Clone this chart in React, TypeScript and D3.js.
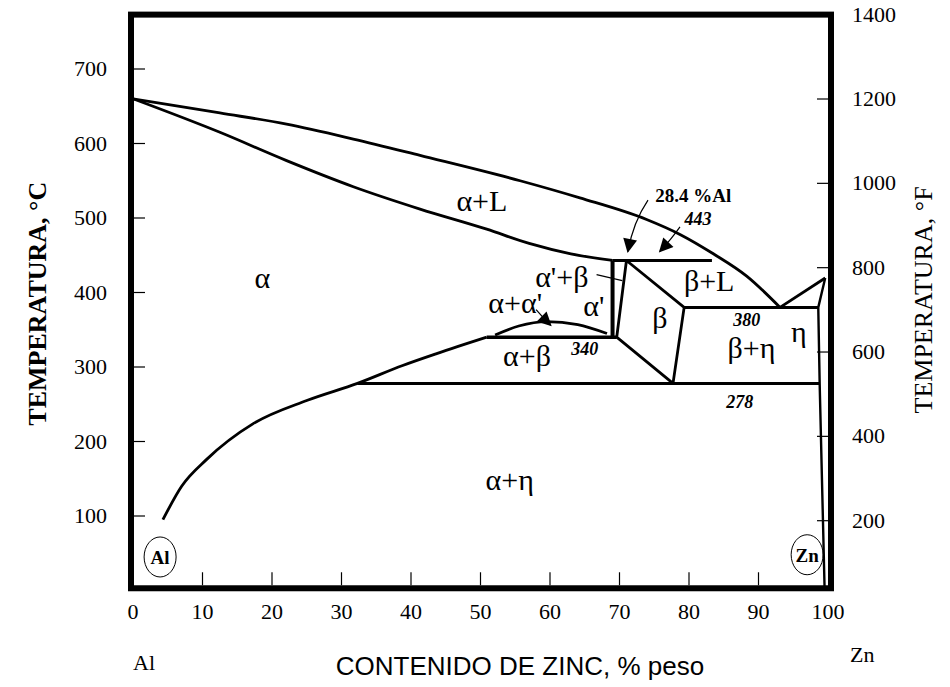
import * as d3 from "d3";

// ejes
const xTicks = [0, 10, 20, 30, 40, 50, 60, 70, 80, 90, 100];
const cTicks = [100, 200, 300, 400, 500, 600, 700];
const fTicks = [200, 400, 600, 800, 1000, 1200, 1400];

// lineas del diagrama: [% Zn, °C]
const liquidus: [number, number][] = [
  [0, 660], [12.5, 641], [22.1, 626], [31.7, 606], [41.3, 584], [55.7, 550],
  [64.3, 527], [73.9, 498], [78.7, 478], [83.5, 452], [88.3, 422], [93.1, 380],
];
const solidus: [number, number][] = [
  [0, 660], [12.5, 615], [22.1, 577], [31.7, 542], [41.3, 512], [50.9, 485],
  [57, 466], [63, 452], [69, 443],
];
const solvus: [number, number][] = [
  [4.3, 95], [7, 140], [10.6, 176], [17.3, 224], [25, 255], [32.3, 278],
  [38.8, 302], [43.7, 318], [50.9, 340],
];
const dome: [number, number][] = [
  [52.1, 343], [55.5, 355], [59.5, 361], [64, 357], [68.2, 345],
];
const etaLiquidus: [number, number][] = [[93.1, 380], [99.6, 419.5]];
const etaSolvus: [number, number][] = [[99.6, 419.5], [98.6, 380], [98.8, 278], [99.5, 6]];
const alphaPrime: [number, number][] = [[69, 443], [69, 340]];
const beta: [number, number][] = [[71, 443], [79.3, 380], [77.7, 278], [69.6, 340], [71, 443]];

// isotermas
const isotherms = [
  { t: 443, from: 69, to: 83.3, w: 3 },
  { t: 380, from: 79.3, to: 98.6, w: 3 },
  { t: 340, from: 50.9, to: 69.6, w: 3.5 },
  { t: 278, from: 32.3, to: 98.8, w: 3 },
];

// rotulos de fases
const phaseLabels = [
  { text: "α+L", p: 50.2, t: 510 },
  { text: "α", p: 18.6, t: 406 },
  { text: "α+α'", p: 55, t: 373 },
  { text: "α'+β", p: 61.7, t: 408 },
  { text: "α'", p: 66.3, t: 369 },
  { text: "β", p: 75.8, t: 353 },
  { text: "α+β", p: 56.7, t: 301 },
  { text: "β+L", p: 82.9, t: 402 },
  { text: "β+η", p: 89, t: 312.5 },
  { text: "η", p: 95.8, t: 333 },
  { text: "α+η", p: 54.2, t: 135 },
];
const tempLabels = [
  { text: "340", p: 65, t: 316.5 },
  { text: "380", p: 88.3, t: 354.5 },
  { text: "278", p: 87.3, t: 245 },
  { text: "443", p: 81.3, t: 491 },
];

// flechas: inicio, control, punta
const arrows: [number, number][][] = [
  [[74.1, 524], [72, 495], [71.2, 455]],
  [[78.7, 488], [77.5, 472], [75.8, 455]],
  [[58, 377], [59, 366], [60.1, 356]],
];

const serif = '"Liberation Serif", "Times New Roman", Times, "DejaVu Serif", serif';
const sans = '"Liberation Sans", Arial, Helvetica, sans-serif';

export default function App() {
  const W = 950;
  const H = 687;
  const x = d3.scaleLinear().domain([0, 100]).range([133, 828]);
  const yC = d3.scaleLinear().domain([100, 700]).range([516, 69]);
  const yF = d3.scaleLinear().domain([200, 1200]).range([520.7, 99]);

  const straight = d3.line<[number, number]>().x(d => x(d[0])).y(d => yC(d[1]));
  const smooth = d3.line<[number, number]>().x(d => x(d[0])).y(d => yC(d[1])).curve(d3.curveMonotoneX);

  const left = 131, right = 831;
  const top = yC(773), bottom = yC(3);

  const arrowPath = (a: [number, number][]) =>
    `M${x(a[0][0])},${yC(a[0][1])} Q${x(a[1][0])},${yC(a[1][1])} ${x(a[2][0])},${yC(a[2][1])}`;

  const serifStyle = { fontFamily: serif };

  return (
    <svg width={W} height={H} style={{ position: "absolute", left: 0, top: 0, background: "#fff" }}>
      <defs>
        <marker id="head" viewBox="0 0 10 10" refX="9" refY="5" markerWidth="16" markerHeight="14"
          markerUnits="userSpaceOnUse" orient="auto">
          <path d="M0,0 L10,5 L0,10 z" fill="#000" />
        </marker>
      </defs>

      {/* curvas */}
      <g fill="none" stroke="#000" strokeLinejoin="round">
        <path d={smooth(liquidus) ?? ""} strokeWidth={2.8} />
        <path d={smooth(solidus) ?? ""} strokeWidth={2.8} />
        <path d={smooth(solvus) ?? ""} strokeWidth={2.8} />
        <path d={smooth(dome) ?? ""} strokeWidth={2.8} />
        <path d={straight(etaLiquidus) ?? ""} strokeWidth={2.8} />
        <path d={straight(etaSolvus) ?? ""} strokeWidth={2.4} />
        <path d={straight(alphaPrime) ?? ""} strokeWidth={4} />
        <path d={straight(beta) ?? ""} strokeWidth={2.8} />
        {isotherms.map(d => (
          <line key={d.t} x1={x(d.from)} x2={x(d.to)} y1={yC(d.t)} y2={yC(d.t)} strokeWidth={d.w} />
        ))}
        {arrows.map((a, i) => (
          <path key={i} d={arrowPath(a)} strokeWidth={1.2} markerEnd="url(#head)" />
        ))}
        <line x1={x(66.7)} y1={yC(424)} x2={x(70.4)} y2={yC(416)} strokeWidth={1.2} />
      </g>

      {/* marco y marcas */}
      <rect x={left} y={top} width={right - left} height={bottom - top} fill="none" stroke="#000" strokeWidth={6} />
      <g stroke="#000" strokeWidth={1.2}>
        {cTicks.map(t => (
          <line key={t} x1={left + 3} x2={left + 14} y1={yC(t)} y2={yC(t)} />
        ))}
        {fTicks.filter(f => f < 1400).map(f => (
          <line key={f} x1={right - 14} x2={right - 3} y1={yF(f)} y2={yF(f)} />
        ))}
        {xTicks.filter(v => v > 0 && v < 100).map(v => (
          <line key={v} x1={x(v)} x2={x(v)} y1={bottom - 3} y2={bottom - 16} />
        ))}
      </g>

      {/* etiquetas de ejes */}
      <g style={serifStyle} fontSize={22} fill="#000">
        {cTicks.map(t => (
          <text key={t} x={107} y={yC(t) + 7} textAnchor="end">{t}</text>
        ))}
        {fTicks.map(f => (
          <text key={f} x={852} y={yF(f) + 7}>{f}</text>
        ))}
        {xTicks.map(v => (
          <text key={v} x={x(v)} y={bottom + 31} textAnchor="middle">{v}</text>
        ))}
      </g>

      <text transform={`translate(46,${yC(385)}) rotate(-90)`} textAnchor="middle" style={serifStyle}
        fontWeight="bold" fontSize={26}>TEMPERATURA, °C</text>
      <text transform={`translate(932,${yC(390)}) rotate(-90)`} textAnchor="middle" style={serifStyle}
        fontSize={26}>TEMPERATURA, °F</text>
      <text x={520} y={675} textAnchor="middle" style={{ fontFamily: sans }} fontSize={26}>CONTENIDO DE ZINC, % peso</text>
      <text x={133} y={670} style={serifStyle} fontSize={22}>Al</text>
      <text x={850} y={662} style={serifStyle} fontSize={22}>Zn</text>

      {/* rotulos de fases */}
      <g style={serifStyle} fontSize={30} textAnchor="middle">
        {phaseLabels.map(d => (
          <text key={d.text} x={x(d.p)} y={yC(d.t)}>{d.text}</text>
        ))}
      </g>
      <g style={serifStyle} fontSize={18} fontWeight="bold" fontStyle="italic" textAnchor="middle">
        {tempLabels.map(d => (
          <text key={d.text} x={x(d.p)} y={yC(d.t)}>{d.text}</text>
        ))}
      </g>
      <text x={x(80.6)} y={yC(522)} textAnchor="middle" style={serifStyle} fontSize={19} fontWeight="bold">28.4 %Al</text>

      {/* circulos Al y Zn */}
      <g style={serifStyle} fontWeight="bold" fontSize={19} textAnchor="middle">
        <ellipse cx={x(3.9)} cy={yC(45)} rx={16} ry={20} fill="none" stroke="#000" strokeWidth={1} />
        <text x={x(3.9)} y={yC(45) + 7}>Al</text>
        <ellipse cx={x(97)} cy={yC(48)} rx={16} ry={20} fill="none" stroke="#000" strokeWidth={1} />
        <text x={x(97)} y={yC(48) + 7}>Zn</text>
      </g>
    </svg>
  );
}
